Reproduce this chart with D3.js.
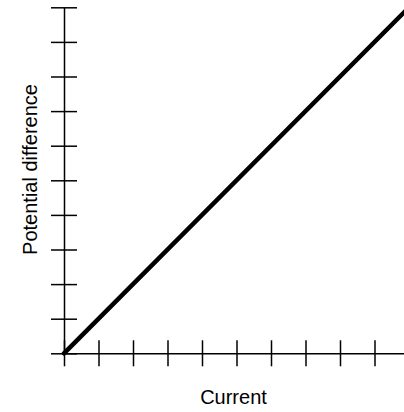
<!DOCTYPE html>
<html>
<head>
<meta charset="utf-8">
<script src="https://cdn.jsdelivr.net/npm/d3@7"></script>
<style>
  html, body { margin: 0; padding: 0; background: #fff; }
  svg { display: block; }
</style>
</head>
<body>
<div id="chart"></div>
<script>
const width = 404;
const height = 412;

// data: straight line through the origin
const current = [0, 10];
const potential = [0, 10];
const xTicks = [0, 1, 2, 3, 4, 5, 6, 7, 8, 9, 10];
const yTicks = [0, 1, 2, 3, 4, 5, 6, 7, 8, 9, 10];

const TICK_HALF = 13;

const svg = d3.select("#chart")
  .append("svg")
  .attr("width", width)
  .attr("height", height);

const x = d3.scaleLinear().domain([0, 10]).range([64, 409]);
const y = d3.scaleLinear().domain([0, 10]).range([353.3, 7.3]);

const xAxis = svg.append("g")
  .attr("transform", `translate(0,${y(0)})`)
  .call(d3.axisBottom(x).tickValues(xTicks).tickSizeOuter(0).tickFormat(""));

xAxis.selectAll(".tick line")
  .attr("y1", -TICK_HALF)
  .attr("y2", TICK_HALF);

const yAxis = svg.append("g")
  .attr("transform", `translate(${x(0)},0)`)
  .call(d3.axisLeft(y).tickValues(yTicks).tickSizeOuter(0).tickFormat(""));

yAxis.selectAll(".tick line")
  .attr("x1", -TICK_HALF)
  .attr("x2", TICK_HALF);

svg.selectAll(".domain, .tick line")
  .attr("stroke", "#000")
  .attr("stroke-width", 1.5);

const line = d3.line()
  .x(d => x(d[0]))
  .y(d => y(d[1]));

svg.append("path")
  .datum(d3.zip(current, potential))
  .attr("fill", "none")
  .attr("stroke", "#000")
  .attr("stroke-width", 4.5)
  .attr("stroke-linecap", "round")
  .attr("d", line);

svg.append("text")
  .attr("x", 233.5)
  .attr("y", 404)
  .attr("text-anchor", "middle")
  .style("font-family", "Liberation Sans, Arial, sans-serif")
  .style("font-size", "20px")
  .text("Current");

svg.append("text")
  .attr("transform", "translate(37,169.5) rotate(-90)")
  .attr("text-anchor", "middle")
  .style("font-family", "Liberation Sans, Arial, sans-serif")
  .style("font-size", "20px")
  .text("Potential difference");
</script>
</body>
</html>
